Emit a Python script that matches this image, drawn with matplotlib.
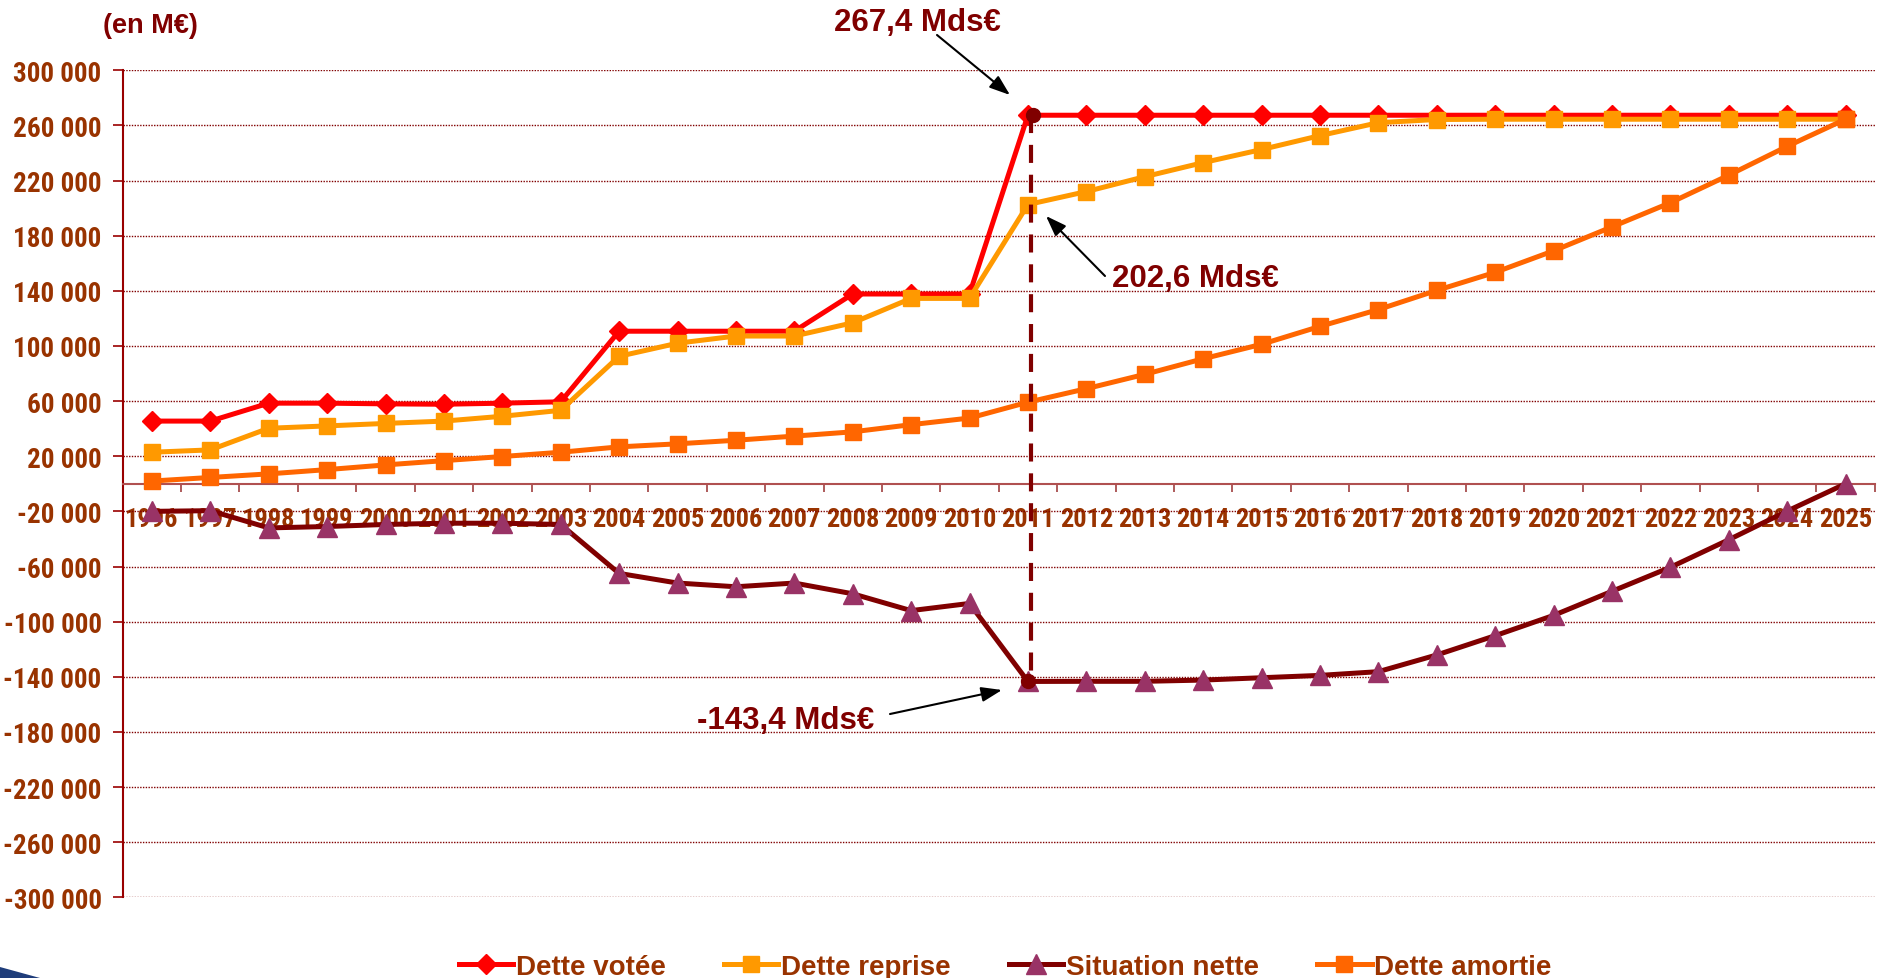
import matplotlib
matplotlib.use("Agg")
import matplotlib.pyplot as plt
from matplotlib import font_manager as fm
from matplotlib.lines import Line2D
from matplotlib.patches import Polygon
import numpy as np

# ---------------- data ----------------
years = [str(y) for y in range(1996, 2026)]
dette_votee = [45500, 45500, 58500, 58500, 58000, 57700, 58500, 59500,
               110700, 110700, 110700, 110700, 137700, 137700, 137700,
               267400, 267400, 267400, 267400, 267400, 267400, 267400,
               267400, 267400, 267400, 267400, 267400, 267400, 267400, 267400]
dette_reprise = [22900, 24600, 40300, 42000, 43800, 45500, 49000, 53300,
                 92500, 102000, 107200, 107200, 116800, 134500, 134500,
                 202600, 212000, 222800, 233000, 242500, 252600, 262000,
                 264300, 264500, 264500, 264500, 264500, 264500, 264500, 264500]
situation_nette = [-20000, -19500, -32000, -31000, -29500, -28600, -28600, -29500,
                   -65000, -72000, -74700, -72000, -79800, -92000, -86800,
                   -143400, -143300, -143300, -142400, -140700, -139000, -136300,
                   -124200, -110200, -95500, -78000, -60600, -40600, -19800, 0]
dette_amortie = [2000, 4600, 7200, 10300, 13700, 16800, 19800, 22900,
                 26800, 29000, 31600, 34600, 37700, 42900, 47700,
                 59200, 69000, 79400, 90700, 101200, 114200, 126400,
                 140300, 153400, 169000, 186400, 203900, 223900, 244800, 264500]
series_names = ["Dette votée", "Dette reprise", "Situation nette", "Dette amortie"]
y_ticks = list(range(-300000, 300001, 40000))
peak_votee = 267400
peak_reprise = 202600
trough_nette = -143400
annot_labels = ["267,4 Mds€", "202,6 Mds€", "-143,4 Mds€"]

# ---------------- fonts ----------------
avail = {f.name for f in fm.fontManager.ttflist}
def pick(names):
    for n in names:
        if n in avail:
            return n
    return "DejaVu Sans"
narrow = pick(["Liberation Sans Narrow", "Arial Narrow", "Roboto Condensed", "Liberation Sans"])
regular = pick(["Liberation Sans", "Arial", "DejaVu Sans"])
plt.rcParams["lines.scale_dashes"] = False

W, H = 1880, 979
fig = plt.figure(figsize=(W / 100, H / 100), dpi=100)
fig.patch.set_facecolor("white")

ax_l, ax_r, ax_t, ax_b = 122.7, 1874.7, 71.3, 898.3
ax = fig.add_axes([ax_l / W, 1 - ax_b / H, (ax_r - ax_l) / W, (ax_b - ax_t) / H])
x = np.arange(len(years))
ax.set_xlim(-0.5, len(years) - 0.5)
ax.set_ylim(-300000, 300000)

# grid
ax.set_yticks(y_ticks)
ax.set_yticklabels([f"{v:,}".replace(",", " ") for v in y_ticks])
ax.yaxis.grid(True, linestyle=(0, (1, 1)), color="#800000", lw=1.0)
ax.set_axisbelow(True)
ax.tick_params(axis="y", direction="out", length=7.2, width=1.2, color="#990000",
               pad=8, labelsize=19.5, labelcolor="#993300")
for lab in ax.get_yticklabels():
    lab.set_fontfamily(narrow)
    lab.set_fontweight("bold")

# spines
for s in ["top", "right"]:
    ax.spines[s].set_visible(False)
ax.spines["left"].set_color("#990000")
ax.spines["left"].set_linewidth(1.5)
ax.spines["bottom"].set_position(("data", 0))
ax.spines["bottom"].set_color("#B05050")
ax.spines["bottom"].set_linewidth(1.5)

# x ticks: boundaries major, labels minor
ax.set_xticks(np.arange(-0.5, len(years), 1.0))
ax.set_xticklabels([])
ax.tick_params(axis="x", which="major", direction="out", length=5.8, width=1.2, color="#A04040")
ax.set_xticks(x, minor=True)
ax.set_xticklabels(years, minor=True)
ax.tick_params(axis="x", which="minor", length=0, pad=17, labelsize=19, labelcolor="#993300")
for lab in ax.get_xticklabels(minor=True):
    lab.set_fontfamily(narrow)
    lab.set_fontweight("bold")
    lab.set_zorder(1)

# series
lw = 3.6
ms_d, ms_s, ms_t = 10, 11, 15
ax.plot(x, dette_votee, color="#FF0000", lw=lw, marker="D", ms=ms_d, mec="#FF0000", zorder=3)
ax.plot(x, dette_reprise, color="#FF9900", lw=lw, marker="s", ms=ms_s, mec="#FF9900", zorder=4)
ax.plot(x, situation_nette, color="#800000", lw=lw, marker="^", ms=ms_t, mfc="#993366", mec="#993366", zorder=4)
ax.plot(x, dette_amortie, color="#FF6600", lw=lw, marker="s", ms=ms_s, mec="#FF6600", zorder=5)

# vertical dashed line + circles
i11 = years.index("2011")
ax.plot([i11 + 0.06, i11 + 0.06], [peak_votee, trough_nette], color="#800000", lw=3.0,
        dashes=(13, 8.5), zorder=6)
ax.plot([i11 + 0.09], [peak_votee], marker="o", ms=10, color="#800000", zorder=7)
ax.plot([i11], [trough_nette], marker="o", ms=10, color="#800000", zorder=7)

# annotations
def pd(px, py):
    return ((px - ax_l) / 58.4 - 0.5, (484.8 - py) / 0.0013783)

arrow_kw = dict(arrowstyle="-|>,head_length=0.5,head_width=0.18", color="black", lw=1.5,
                mutation_scale=25, shrinkA=0, shrinkB=0)
for (sx, sy), (tx, ty) in [((937, 36), (1010, 96)), ((1105, 277), (1046, 217)), ((890, 715), (1002, 691))]:
    ax.annotate("", xy=pd(tx, ty), xytext=pd(sx, sy), arrowprops=arrow_kw, annotation_clip=False, zorder=8)

tkw = dict(fontsize=22.5, fontweight="bold", color="#800000", family=regular, va="baseline")
ax.text(*pd(1001, 30.7), annot_labels[0], ha="right", clip_on=False, **tkw)
ax.text(*pd(1112, 287), annot_labels[1], ha="left", **tkw)
ax.text(*pd(697, 729.3), annot_labels[2], ha="left", **tkw)

fig.text(103 / W, 1 - 33 / H, "(en M€)", fontsize=19.5, fontweight="bold", color="#800000",
         family=regular, ha="left", va="baseline")

# legend
handles = [
    Line2D([], [], color="#FF0000", lw=lw, marker="D", ms=ms_d),
    Line2D([], [], color="#FF9900", lw=lw, marker="s", ms=ms_s),
    Line2D([], [], color="#800000", lw=lw, marker="^", ms=ms_t, mfc="#993366", mec="#993366"),
    Line2D([], [], color="#FF6600", lw=lw, marker="s", ms=ms_s),
]
leg = fig.legend(handles, series_names, loc="center left", bbox_to_anchor=(459 / W, 1 - 968 / H),
                 ncol=4, frameon=False, borderpad=0, borderaxespad=0, handlelength=1.95,
                 handletextpad=0.1, columnspacing=2.1, numpoints=1,
                 prop={"family": regular, "weight": "bold", "size": 20})
for t in leg.get_texts():
    t.set_color("#993300")

# decorative swoosh bottom-left
fig.patches.append(Polygon([(0, 1 - 968 / H), (40 / W, 0), (0, 0)], closed=True,
                           transform=fig.transFigure, facecolor="#1F3D7A", edgecolor="none"))

fig.savefig("out.png", dpi=100, facecolor="white")
